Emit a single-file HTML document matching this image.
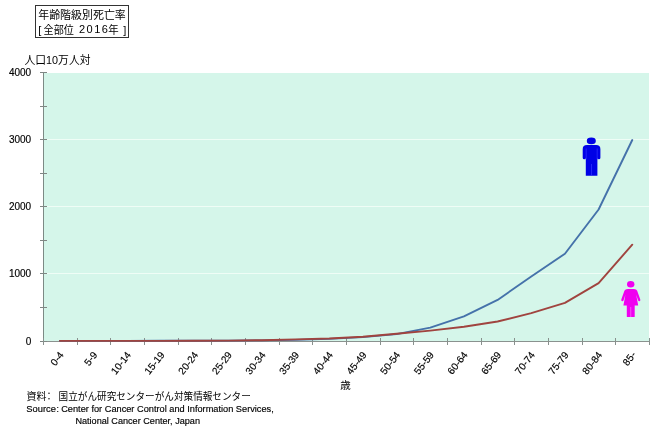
<!DOCTYPE html>
<html><head><meta charset="utf-8">
<style>
html,body{margin:0;padding:0;background:#fff;}
body{width:660px;height:432px;position:relative;overflow:hidden;}
svg{position:absolute;left:0;top:0;}
.n{font-family:"Liberation Sans","Noto Sans CJK JP",sans-serif;font-size:10px;fill:#000;stroke:#000;stroke-width:0.15px;}
.j{font-family:"Liberation Sans","Noto Sans CJK JP",sans-serif;fill:#000;}
</style></head><body>
<svg width="660" height="432" viewBox="0 0 660 432">
<rect x="44" y="73" width="605" height="268" fill="#d5f6ea"/>
<line x1="44" x2="649" y1="273.5" y2="273.5" stroke="#effdf6" stroke-width="1"/>
<line x1="44" x2="649" y1="206.5" y2="206.5" stroke="#effdf6" stroke-width="1"/>
<line x1="44" x2="649" y1="139.5" y2="139.5" stroke="#effdf6" stroke-width="1"/>
<line x1="43.5" x2="43.5" y1="72" y2="345" stroke="#7c8a85"/>
<line x1="40" x2="650" y1="341.5" y2="341.5" stroke="#8a928f"/>
<line x1="40" x2="47" y1="341.5" y2="341.5" stroke="#7f8784"/>
<line x1="40" x2="47" y1="307.5" y2="307.5" stroke="#7f8784"/>
<line x1="40" x2="47" y1="273.5" y2="273.5" stroke="#7f8784"/>
<line x1="40" x2="47" y1="240.5" y2="240.5" stroke="#7f8784"/>
<line x1="40" x2="47" y1="206.5" y2="206.5" stroke="#7f8784"/>
<line x1="40" x2="47" y1="173.5" y2="173.5" stroke="#7f8784"/>
<line x1="40" x2="47" y1="139.5" y2="139.5" stroke="#7f8784"/>
<line x1="40" x2="47" y1="106.5" y2="106.5" stroke="#7f8784"/>
<line x1="40" x2="47" y1="72.5" y2="72.5" stroke="#7f8784"/>
<line x1="43.5" x2="43.5" y1="338" y2="345" stroke="#88908d"/>
<line x1="77.5" x2="77.5" y1="338" y2="345" stroke="#88908d"/>
<line x1="110.5" x2="110.5" y1="338" y2="345" stroke="#88908d"/>
<line x1="144.5" x2="144.5" y1="338" y2="345" stroke="#88908d"/>
<line x1="178.5" x2="178.5" y1="338" y2="345" stroke="#88908d"/>
<line x1="211.5" x2="211.5" y1="338" y2="345" stroke="#88908d"/>
<line x1="245.5" x2="245.5" y1="338" y2="345" stroke="#88908d"/>
<line x1="279.5" x2="279.5" y1="338" y2="345" stroke="#88908d"/>
<line x1="312.5" x2="312.5" y1="338" y2="345" stroke="#88908d"/>
<line x1="346.5" x2="346.5" y1="338" y2="345" stroke="#88908d"/>
<line x1="380.5" x2="380.5" y1="338" y2="345" stroke="#88908d"/>
<line x1="413.5" x2="413.5" y1="338" y2="345" stroke="#88908d"/>
<line x1="447.5" x2="447.5" y1="338" y2="345" stroke="#88908d"/>
<line x1="481.5" x2="481.5" y1="338" y2="345" stroke="#88908d"/>
<line x1="514.5" x2="514.5" y1="338" y2="345" stroke="#88908d"/>
<line x1="548.5" x2="548.5" y1="338" y2="345" stroke="#88908d"/>
<line x1="582.5" x2="582.5" y1="338" y2="345" stroke="#88908d"/>
<line x1="615.5" x2="615.5" y1="338" y2="345" stroke="#88908d"/>
<line x1="649.5" x2="649.5" y1="338" y2="345" stroke="#88908d"/>
<polyline points="59.93,340.87 93.60,340.87 127.27,340.85 160.93,340.80 194.60,340.70 228.27,340.62 261.93,340.36 295.60,339.86 329.27,338.85 362.93,337.11 396.60,334.15 430.27,327.57 463.93,316.43 497.60,299.92 531.27,276.56 564.93,253.74 598.60,209.50 632.27,140.03" fill="none" stroke="#4572aa" stroke-width="1.9" stroke-linejoin="round" stroke-linecap="round"/>
<polyline points="59.93,340.87 93.60,340.89 127.27,340.88 160.93,340.84 194.60,340.78 228.27,340.60 261.93,340.19 295.60,339.39 329.27,338.45 362.93,336.70 396.60,333.75 430.27,330.60 463.93,326.70 497.60,321.53 531.27,313.08 564.93,302.81 598.60,283.07 632.27,244.68" fill="none" stroke="#a0443f" stroke-width="1.9" stroke-linejoin="round" stroke-linecap="round"/>
<text x="31.2" y="344.5" class="n" text-anchor="end">0</text>
<text x="31.2" y="277.4" class="n" text-anchor="end">1000</text>
<text x="31.2" y="210.2" class="n" text-anchor="end">2000</text>
<text x="31.2" y="143.1" class="n" text-anchor="end">3000</text>
<text x="31.2" y="76.0" class="n" text-anchor="end">4000</text>
<text class="n" text-anchor="end" transform="translate(64.1 355) rotate(-52)">0-4</text>
<text class="n" text-anchor="end" transform="translate(97.8 355) rotate(-52)">5-9</text>
<text class="n" text-anchor="end" transform="translate(131.5 355) rotate(-52)">10-14</text>
<text class="n" text-anchor="end" transform="translate(165.1 355) rotate(-52)">15-19</text>
<text class="n" text-anchor="end" transform="translate(198.8 355) rotate(-52)">20-24</text>
<text class="n" text-anchor="end" transform="translate(232.5 355) rotate(-52)">25-29</text>
<text class="n" text-anchor="end" transform="translate(266.1 355) rotate(-52)">30-34</text>
<text class="n" text-anchor="end" transform="translate(299.8 355) rotate(-52)">35-39</text>
<text class="n" text-anchor="end" transform="translate(333.5 355) rotate(-52)">40-44</text>
<text class="n" text-anchor="end" transform="translate(367.1 355) rotate(-52)">45-49</text>
<text class="n" text-anchor="end" transform="translate(400.8 355) rotate(-52)">50-54</text>
<text class="n" text-anchor="end" transform="translate(434.5 355) rotate(-52)">55-59</text>
<text class="n" text-anchor="end" transform="translate(468.1 355) rotate(-52)">60-64</text>
<text class="n" text-anchor="end" transform="translate(501.8 355) rotate(-52)">65-69</text>
<text class="n" text-anchor="end" transform="translate(535.5 355) rotate(-52)">70-74</text>
<text class="n" text-anchor="end" transform="translate(569.1 355) rotate(-52)">75-79</text>
<text class="n" text-anchor="end" transform="translate(602.8 355) rotate(-52)">80-84</text>
<text class="n" text-anchor="end" transform="translate(636.5 355) rotate(-52)">85-</text>
<g fill="#0000e6"><ellipse cx="591.3" cy="140.9" rx="4.5" ry="3.3"/><path d="M582.7,149.2 Q582.7,145 587,145 L596.1,145 Q600.4,145 600.4,149.2 L600.4,157.7 Q600.4,159.3 598.9,159.3 Q597.4,159.3 597.4,157.7 L597.4,175.8 L585.8,175.8 L585.8,157.7 Q585.8,159.3 584.2,159.3 Q582.7,159.3 582.7,157.7 Z"/></g>
<g stroke="#3434ff" stroke-width="0.7"><line x1="586.2" y1="148.5" x2="586.2" y2="159.3"/><line x1="597.2" y1="148.5" x2="597.2" y2="159.3"/><line x1="591.5" y1="164" x2="591.5" y2="175.8"/></g>
<g fill="#f000f0"><ellipse cx="630.7" cy="284.3" rx="3.7" ry="3.2"/><path d="M628,289 Q624.6,289 623.9,292.2 L621.3,299.6 Q620.9,301.2 622.3,301.2 Q623.2,301.2 623.6,300.2 L625.4,294.8 L623.4,305.6 L638.2,305.6 L636.2,294.8 L638,300.2 Q638.4,301.2 639.3,301.2 Q640.7,301.2 640.3,299.6 L637.7,292.2 Q637,289 633.6,289 Z"/><rect x="626.8" y="305" width="7.9" height="12" rx="0.6"/></g>
<line x1="630.75" y1="307" x2="630.75" y2="317" stroke="#ff70ff" stroke-width="0.7"/>
<rect x="35.5" y="5.5" width="93" height="32" fill="#fff" stroke="#333"/>
<text x="38.2" y="18.8" class="j" style="font-size:11.0px" textLength="87.6" lengthAdjust="spacingAndGlyphs">年齢階級別死亡率</text>
<text x="38.2" y="34.0" class="j" style="font-size:11.0px">[</text>
<text x="43.6" y="34.0" class="j" style="font-size:11.0px" textLength="30.2" lengthAdjust="spacingAndGlyphs">全部位</text>
<text x="79.0" y="32.8" class="j" style="font-size:11.0px" letter-spacing="1.45" fill="#222">2016</text>
<text x="108.3" y="34.0" class="j" style="font-size:11.0px" textLength="10.4" lengthAdjust="spacingAndGlyphs">年</text>
<text x="123.2" y="34.0" class="j" style="font-size:11.0px">]</text>
<text x="24.5" y="64.3" class="j" style="font-size:11.5px" textLength="66.0" lengthAdjust="spacingAndGlyphs">人口10万人対</text>
<text x="340.3" y="389.2" class="j" style="font-size:10.5px">歳</text>
<text x="26.6" y="399.8" class="j" style="font-size:10.0px">資料</text>
<text x="43.9" y="399.8" class="j" style="font-size:10.0px">：</text>
<text x="58.6" y="399.8" class="j" style="font-size:10.0px" textLength="192.2" lengthAdjust="spacingAndGlyphs">国立がん研究センターがん対策情報センター</text>
<text x="26.3" y="411.8" class="n" style="font-size:8.6px" textLength="29.6" lengthAdjust="spacingAndGlyphs">Source</text>
<text x="56.6" y="411.8" class="n" style="font-size:8.6px">:</text>
<text x="61.2" y="411.8" class="n" style="font-size:8.6px" textLength="212.6" lengthAdjust="spacingAndGlyphs">Center for Cancer Control and Information Services,</text>
<text x="75.4" y="423.6" class="n" style="font-size:8.6px" textLength="124.6" lengthAdjust="spacingAndGlyphs">National Cancer Center, Japan</text>
</svg>
</body></html>
